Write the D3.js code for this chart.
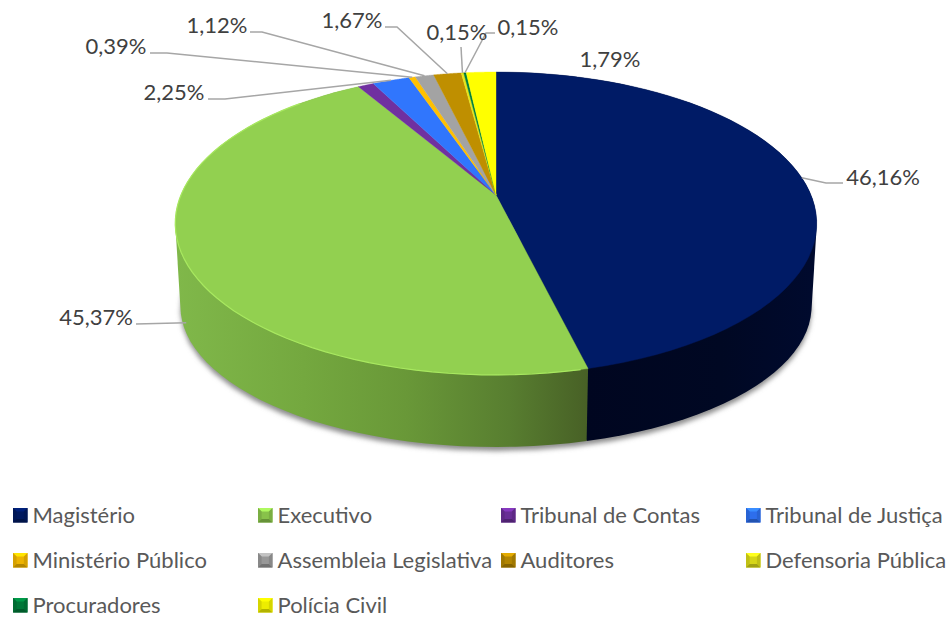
<!DOCTYPE html>
<html><head><meta charset="utf-8">
<script src="https://cdn.jsdelivr.net/npm/d3@7"></script>
<style>html,body{margin:0;padding:0;background:#fff}svg{display:block}text{font-family:Lato,"Open Sans",sans-serif}</style>
</head><body><svg id="c" width="950" height="619"></svg>
<script>
const categories=["Magistério","Executivo","Tribunal de Contas","Tribunal de Justiça","Ministério Público","Assembleia Legislativa","Auditores","Defensoria Pública","Procuradores","Polícia Civil"];
const values=[46.16,45.37,0.95,2.25,0.39,1.12,1.67,0.15,0.15,1.79];
const valueLabels=["46,16%","45,37%",null,"2,25%","0,39%","1,12%","1,67%","0,15%","0,15%","1,79%"];
const colors=["#001b66","#92d050","#7030a0","#3076fd","#ffc000","#a3a3a3","#bf8f00","#e6e619","#00803c","#ffff00"];

// layout: label centre, and elbow polyline start of each leader
const labelPos=[[883,177],[96,317],null,[174,92],[116,46],[217,25],[352,20],[457,32],[528,27],[610,59]];
const leaderFrom=[[[843,183],[826,183]],[[136,324]],null,[[208,99],[225,99]],[[150,53],[167,53]],[[250,32],[262,32]],[[385,27],[397,27]],[[461,47]],[[495,33],[486,33]],null];
const legendCols=[13,258,501,746], legendRows=[515,560,605];

const svg=d3.select("#c");
const defs=svg.append("defs");
const top3d={a:315,b:146.1,k:-0.188,x0:496,y0:195};
const bot3d={a:310,b:136,k:-0.188,x0:496,y0:279.5};
const project=(p,t)=>{const u=Math.sin(t),w=-Math.cos(t),d=1+p.k*w;return [p.x0+p.a*u/d,p.y0+p.b*w/d];};
const arcPts=(p,a0,a1)=>d3.range(0,61).map(i=>project(p,a0+(a1-a0)*i/60));
const line=d3.line();
const arcs=d3.pie().sort(null).value(d=>d)(values);

const grad=(id,stops)=>{const g=defs.append("linearGradient").attr("id",id).attr("gradientUnits","userSpaceOnUse").attr("x1",175).attr("x2",817).attr("y1",0).attr("y2",0);
  stops.forEach(s=>g.append("stop").attr("offset",s[0]).attr("stop-color",s[1]));};
grad("wg",[[0,"#80b84a"],[0.2,"#74a83f"],[0.36,"#699838"],[0.52,"#587e30"],[0.64,"#486126"],[1,"#486126"]]);
grad("wn",[[0,"#000620"],[0.64,"#000620"],[0.85,"#000823"],[1,"#000a2e"]]);
const blur=defs.append("filter").attr("id","sh").attr("x","-10%").attr("y","-10%").attr("width","120%").attr("height","120%");
blur.append("feGaussianBlur").attr("stdDeviation",2.6);

// shadow under the drum
svg.append("path").attr("d",line(arcPts(bot3d,0,2*Math.PI))+"Z").attr("transform","translate(0,4)")
  .attr("fill","#8c8c8c").attr("filter","url(#sh)");

// drum walls of the two large slices
[[0,"url(#wn)"],[1,"url(#wg)"]].forEach(([i,f])=>{
  const hull=d3.polygonHull(arcPts(top3d,arcs[i].startAngle,arcs[i].endAngle).concat(arcPts(bot3d,arcs[i].startAngle,arcs[i].endAngle)));
  svg.append("path").attr("d",line(hull)+"Z").attr("fill",f);
});

// top face
const apex=[top3d.x0,top3d.y0];
svg.append("g").selectAll("path").data(arcs).join("path")
  .attr("d",d=>line([apex,...arcPts(top3d,d.startAngle,d.endAngle)])+"Z")
  .attr("fill",(d,i)=>colors[i]).attr("stroke",(d,i)=>colors[i]).attr("stroke-width",0.4);

// light rim on the green face
svg.append("path").attr("d",line(arcPts(top3d,arcs[1].startAngle+0.02,arcs[1].startAngle+2.6)))
  .attr("fill","none").attr("stroke","#a8e860").attr("stroke-width",1.2);

// leader lines; the one on the wide front slice lands on its wall
const lg=svg.append("g").attr("fill","none").attr("stroke","#a6a6a6").attr("stroke-width",1.5);
arcs.forEach((d,i)=>{ if(!leaderFrom[i]) return;
  const mid=(d.startAngle+d.endAngle)/2;
  const t=project(top3d,mid),b=project(bot3d,mid);
  const end=i===1?d3.interpolateArray(t,b)(0.85):t;
  lg.append("path").attr("d",line([...leaderFrom[i],end]));
});

// value labels
svg.append("g").selectAll("text").data(arcs.map((d,i)=>i).filter(i=>valueLabels[i])).join("text")
  .attr("x",i=>labelPos[i][0]).attr("y",i=>labelPos[i][1]+7.5).attr("text-anchor","middle")
  .attr("font-size",22).attr("fill","#404040").text(i=>valueLabels[i]);

// legend
const lk=svg.append("g");
categories.forEach((c,i)=>{
  const x=legendCols[i%4],y=legendRows[Math.floor(i/4)]-7,s=14.5,b=3.6;
  const base=d3.color(colors[i]);
  const g=lk.append("g").attr("transform",`translate(${x},${y})`);
  const P=(pts,f)=>g.append("path").attr("d",line(pts)+"Z").attr("fill",f);
  P([[0,0],[s,0],[s,s],[0,s]],base.darker(0.2));
  P([[0,0],[s,0],[s-b,b],[b,b]],base.brighter(0.5));
  P([[0,0],[b,b],[b,s-b],[0,s]],base.darker(0.5));
  P([[s,0],[s-b,b],[s-b,s-b],[s,s]],base.darker(0.5));
  P([[0,s],[b,s-b],[s-b,s-b],[s,s]],base.darker(1));
  g.append("text").attr("x",19.5).attr("y",14.5).attr("font-size",22).attr("fill","#595959").text(c);
});
</script></body></html>
